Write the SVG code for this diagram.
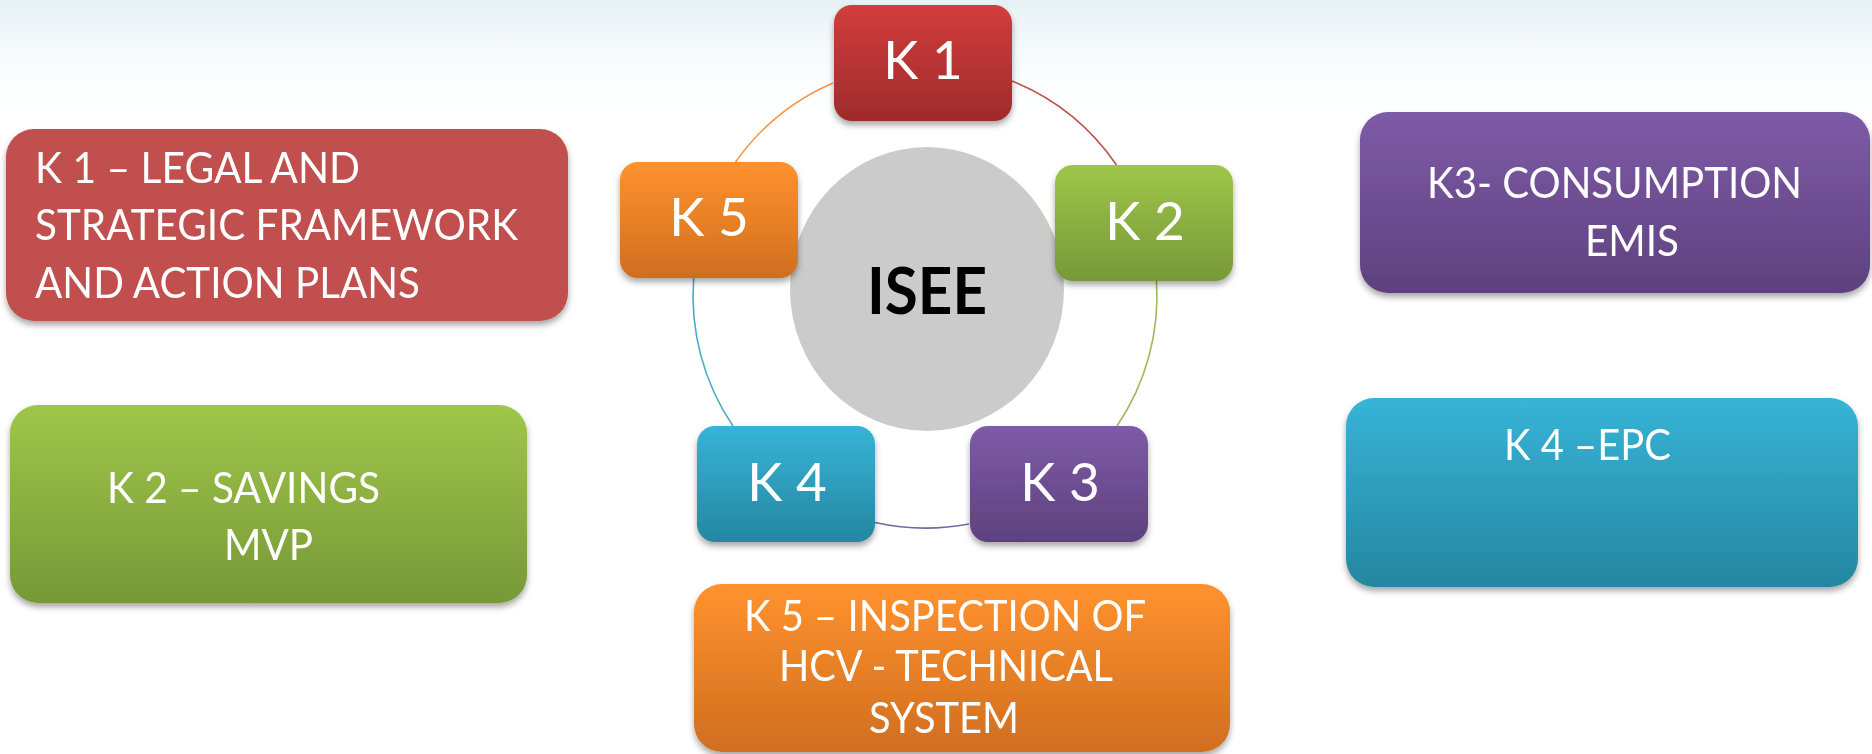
<svg xmlns="http://www.w3.org/2000/svg" width="1872" height="754" viewBox="0 0 1872 754">
<defs>
<style>
.lbl{font-family:Lato,"Liberation Sans",sans-serif;fill:#ffffff}
.big{font-size:42px}
.sm{font-size:53px;text-anchor:middle}
.arc{fill:none;stroke-width:1.6}
</style>
<linearGradient id="bg" x1="0" y1="0" x2="0" y2="1">
<stop offset="0" stop-color="#e6f1f5"/>
<stop offset="1" stop-color="#ffffff" stop-opacity="0"/>
</linearGradient>
<linearGradient id="gRed" x1="0" y1="0" x2="0" y2="1"><stop offset="0" stop-color="#d23d3c"/><stop offset="1" stop-color="#9e2b2b"/></linearGradient>
<linearGradient id="gGreen" x1="0" y1="0" x2="0" y2="1"><stop offset="0" stop-color="#9fc64a"/><stop offset="1" stop-color="#779838"/></linearGradient>
<linearGradient id="gPurple" x1="0" y1="0" x2="0" y2="1"><stop offset="0" stop-color="#7e5ba7"/><stop offset="1" stop-color="#5e417e"/></linearGradient>
<linearGradient id="gBlue" x1="0" y1="0" x2="0" y2="1"><stop offset="0" stop-color="#37b4d7"/><stop offset="1" stop-color="#2586a0"/></linearGradient>
<linearGradient id="gOrange" x1="0" y1="0" x2="0" y2="1"><stop offset="0" stop-color="#ff922e"/><stop offset="1" stop-color="#d06e1f"/></linearGradient>
<filter id="sh" x="-10%" y="-10%" width="120%" height="130%">
<feDropShadow dx="0" dy="4" stdDeviation="3" flood-color="#000" flood-opacity="0.35"/>
</filter>
</defs>
<rect width="1872" height="754" fill="#ffffff"/>
<rect width="1872" height="130" fill="url(#bg)"/>

<g id="connectors">
<path class="arc" stroke="#f79646" d="M735.6 162 A232 232 0 0 1 833 83"/>
<path class="arc" stroke="#c0504d" d="M1012 81 A232 232 0 0 1 1116.5 165"/>
<path class="arc" stroke="#9bbb59" d="M1156.5 281 A232 232 0 0 1 1117 426"/>
<path class="arc" stroke="#8064a2" d="M969 524 A232 232 0 0 1 875 522.5"/>
<path class="arc" stroke="#4bacc6" d="M733 426 A232 232 0 0 1 693.7 278"/>
</g>

<g id="isee">
<ellipse cx="927" cy="289" rx="137" ry="142" fill="#cbcbcb"/>
<text x="927" y="314" text-anchor="middle" font-family="Lato,'Liberation Sans',sans-serif" font-weight="bold" font-size="65" fill="#000" textLength="120" lengthAdjust="spacingAndGlyphs">ISEE</text>
</g>

<g id="k1-small" filter="url(#sh)">
<rect x="834" y="5" width="178" height="116" rx="18" fill="url(#gRed)"/>
<text class="lbl sm" x="923" y="79">K 1</text>
</g>
<g id="k2-small" filter="url(#sh)">
<rect x="1055" y="165" width="178" height="116" rx="18" fill="url(#gGreen)"/>
<text class="lbl sm" x="1145" y="240">K 2</text>
</g>
<g id="k3-small" filter="url(#sh)">
<rect x="970" y="426" width="178" height="116" rx="18" fill="url(#gPurple)"/>
<text class="lbl sm" x="1060" y="501">K 3</text>
</g>
<g id="k4-small" filter="url(#sh)">
<rect x="697" y="426" width="178" height="116" rx="18" fill="url(#gBlue)"/>
<text class="lbl sm" x="787" y="501">K 4</text>
</g>
<g id="k5-small" filter="url(#sh)">
<rect x="620" y="162" width="178" height="116" rx="18" fill="url(#gOrange)"/>
<text class="lbl sm" x="709" y="236">K 5</text>
</g>

<g id="k1-big" filter="url(#sh)">
<rect x="6" y="129" width="562" height="192" rx="28" fill="#c0504d"/>
<text class="lbl big" x="35" y="183" textLength="325" lengthAdjust="spacingAndGlyphs">K 1 – LEGAL AND</text>
<text class="lbl big" x="35" y="240" textLength="483" lengthAdjust="spacingAndGlyphs">STRATEGIC FRAMEWORK</text>
<text class="lbl big" x="35" y="298" textLength="385" lengthAdjust="spacingAndGlyphs">AND ACTION PLANS</text>
</g>
<g id="k2-big" filter="url(#sh)">
<rect x="10" y="405" width="517" height="198" rx="28" fill="url(#gGreen)"/>
<text class="lbl big" x="107" y="503" textLength="273" lengthAdjust="spacingAndGlyphs">K 2 – SAVINGS</text>
<text class="lbl big" x="224" y="560" textLength="89" lengthAdjust="spacingAndGlyphs">MVP</text>
</g>
<g id="k3-big" filter="url(#sh)">
<rect x="1360" y="112" width="510" height="181" rx="28" fill="url(#gPurple)"/>
<text class="lbl big" x="1427" y="198" textLength="375" lengthAdjust="spacingAndGlyphs">K3- CONSUMPTION</text>
<text class="lbl big" x="1585" y="256" textLength="94" lengthAdjust="spacingAndGlyphs">EMIS</text>
</g>
<g id="k4-big" filter="url(#sh)">
<rect x="1346" y="398" width="512" height="189" rx="28" fill="url(#gBlue)"/>
<text class="lbl big" x="1504" y="460" textLength="167" lengthAdjust="spacingAndGlyphs">K 4 –EPC</text>
</g>
<g id="k5-big" filter="url(#sh)">
<rect x="694" y="584" width="536" height="168" rx="28" fill="url(#gOrange)"/>
<text class="lbl big" x="744" y="631" textLength="402" lengthAdjust="spacingAndGlyphs">K 5 – INSPECTION OF</text>
<text class="lbl big" x="779" y="681" textLength="334" lengthAdjust="spacingAndGlyphs">HCV - TECHNICAL</text>
<text class="lbl big" x="869" y="733" textLength="150" lengthAdjust="spacingAndGlyphs">SYSTEM</text>
</g>
</svg>
